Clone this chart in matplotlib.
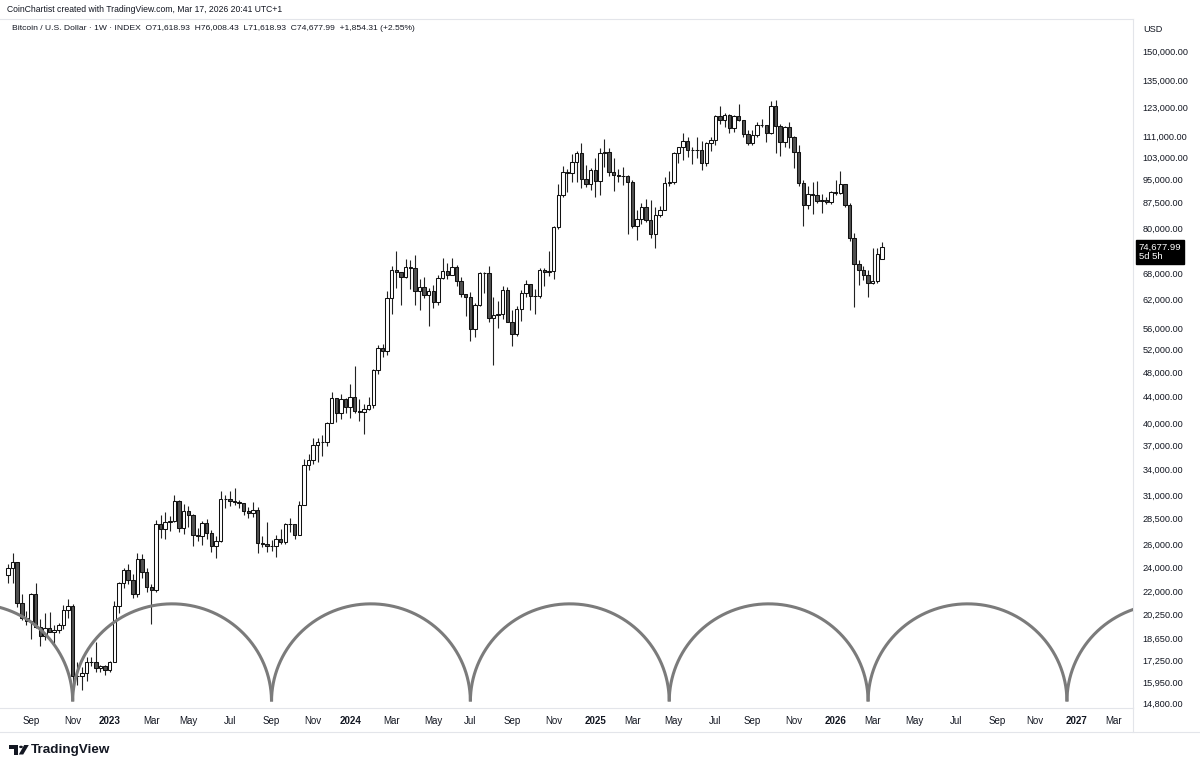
import numpy as np
import pandas as pd
import matplotlib
matplotlib.use("Agg")
import matplotlib.pyplot as plt
from matplotlib.lines import Line2D
from matplotlib.patches import Polygon, Circle
from matplotlib.ticker import FixedLocator, NullLocator

plt.rcParams['font.family'] = ['Liberation Sans', 'DejaVu Sans']

# weekly BTC candles, first bar = week of 2022-08-01
first_week = '2022-08-01'
first_open = 23300
last_open = 71618.93

closes = [
    # 2022
    23900, 24450, 21150, 20050, 19800, 21800, 19400, 18800, 19300, 19070, 19200,
    19560, 20600, 20900, 16300, 16280, 16450, 17100, 17100, 16750, 16850, 16650,
    # 2023
    17100, 20900, 22700, 23750, 22950, 21800, 24650, 23550, 22350, 22150, 28000,
    27450, 28200, 28300, 30300, 27600, 29250, 28900, 26900, 26750, 28050, 27100,
    25850, 26350, 30500, 30600, 30300, 30250, 30100, 29300, 29050, 29400, 26100,
    26000, 25850, 25850, 26550, 26250, 27950, 27950, 26850, 29950, 34500, 35050,
    37050, 37400, 37450, 39950, 43800, 41400, 43650, 42300,
    # 2024
    43950, 41750, 41550, 42050, 42600, 48300, 52150, 51750, 62450, 68950, 68400,
    67250, 69650, 69350, 63900, 64950, 63100, 63950, 61500, 67050, 68550, 67750,
    69650, 66200, 63200, 62700, 55850, 60800, 68150, 68250, 58150, 58700, 58950,
    64200, 57300, 54850, 60000, 63600, 65600, 62800, 62850, 69000, 68350, 68750,
    80400, 89850, 97700, 97250, 101200, 104450, 95200, 93700, 98350,
    # 2025
    94500, 104400, 104800, 97700, 96450, 96150, 96300, 94250, 80700, 82600, 86100,
    82400, 78350, 83750, 85150, 93750, 94300, 104600, 106500, 109000, 105700,
    105600, 105500, 100950, 108350, 109200, 119100, 117300, 119450, 114200, 119300,
    117500, 111800, 108250, 111150, 115300, 115300, 112200, 123500, 115100, 108650,
    114500, 110600, 104700, 94000, 86800, 90400, 89900, 88000, 88500, 87600, 91000,
    # 2026
    90500, 93500, 86800, 77200, 70400, 68900, 67700, 65900, 66200, 72823.68, 74677.99,
]

highs = [
    24250, 25200, 24450, 21800, 20550, 21850, 22650, 19950, 20350, 20450, 19500,
    19700, 21000, 21450, 21050, 17150, 16800, 17400, 17400, 18400, 16950, 16950,
    17200, 21250, 22750, 23950, 24250, 23400, 25250, 25100, 23900, 22600, 28400,
    28900, 29150, 28800, 30950, 30450, 30000, 29800, 29000, 27600, 28250, 28450,
    27400, 26800, 31400, 31000, 31400, 31800, 30400, 30000, 29700, 30250, 29650,
    26800, 28150, 26450, 26850, 27450, 28050, 28600, 27950, 30300, 35200, 35900,
    37950, 37950, 38400, 40200, 44700, 43500, 44400, 43800,
    45900, 48950, 43550, 42850, 43850, 48550, 52800, 52950, 64000, 69950, 73750,
    68100, 71700, 71300, 72800, 66800, 67200, 64750, 65450, 67700, 71950, 70600,
    71950, 70200, 67250, 63350, 63800, 61200, 68350, 68500, 70000, 62700, 61800,
    65000, 64950, 59800, 60700, 64100, 66500, 65600, 64450, 69400, 69500, 73600,
    80500, 93450, 99600, 98700, 104000, 105250, 108350, 99950, 99000,
    102700, 106400, 109600, 106450, 102500, 98800, 99500, 96500, 95000, 85300, 87500,
    88750, 88500, 86100, 86500, 95750, 97900, 104950, 106650, 111950, 110700,
    106800, 110600, 108950, 108500, 110550, 119500, 123200, 120250, 119800, 119450,
    124500, 117600, 113400, 113400, 116700, 117900, 115400, 125700, 126200, 115900,
    114900, 116400, 110800, 107500, 95000, 93000, 94300, 94700, 90400, 89400, 91300,
    94900, 97800, 93600, 87500, 78600, 71400, 69900, 68900, 74600, 74400, 76008.43,
]

lows = [
    22650, 22700, 20800, 19850, 19550, 18550, 19350, 18150, 18500, 19050, 18200,
    18950, 19250, 20050, 15650, 15750, 15500, 16000, 16900, 16550, 16550, 16350,
    16550, 17100, 20400, 22300, 22550, 21500, 21550, 23100, 21950, 19600, 21950,
    26600, 26550, 27300, 28200, 27150, 26950, 27700, 25850, 26350, 25900, 26550,
    25350, 24800, 26250, 29550, 29800, 29950, 29550, 28900, 28600, 28700, 25200,
    25800, 25350, 25400, 24900, 26050, 26000, 27200, 26550, 26950, 29900, 33900,
    34550, 34800, 35650, 36850, 39950, 40200, 40550, 41450,
    40750, 41500, 40300, 38550, 41850, 42250, 47700, 50650, 50900, 59000, 64550,
    60800, 66950, 64500, 60800, 59700, 62450, 56550, 60200, 60800, 66650, 66700,
    67600, 65100, 62550, 58450, 53500, 54300, 60650, 63450, 57350, 49100, 56100,
    57850, 57200, 52600, 54600, 57500, 62650, 59850, 58950, 62400, 65050, 67500,
    66800, 79750, 89400, 90800, 94100, 94200, 92200, 92500, 91500,
    89250, 89950, 99500, 96200, 91200, 94100, 93350, 78200, 80000, 76600, 81200,
    81600, 77100, 74500, 83100, 85150, 92800, 93400, 100800, 102000, 103100,
    100400, 102700, 98200, 99600, 105150, 107500, 115750, 114700, 112000, 112650,
    116800, 110600, 107300, 107300, 110600, 114400, 108650, 111600, 104600, 103500,
    106700, 106300, 98900, 93000, 80600, 85500, 84000, 87400, 84500, 87000, 87000,
    90000, 90200, 86300, 76500, 60400, 65300, 66500, 62600, 65600, 65800, 71618.93,
]

price_ticks = [150000, 135000, 123000, 111000, 103000, 95000, 87500, 80000,
               68000, 62000, 56000, 52000, 48000, 44000, 40000, 37000, 34000,
               31000, 28500, 26000, 24000, 22000, 20250, 18650, 17250, 15950, 14800]
tick_months = pd.date_range('2022-09-01', '2027-03-01', freq='2MS')

# half-circle cycle arcs
arc_start = pd.Timestamp('2022-11-07')
arc_period = 301  # days
arc_low, arc_high = 14880, 21050

header1 = "CoinChartist created with TradingView.com, Mar 17, 2026 20:41 UTC+1"
header2 = ("Bitcoin / U.S. Dollar · 1W · INDEX  O71,618.93  H76,008.43  "
           "L71,618.93  C74,677.99  +1,854.31 (+2.55%)")
last_price_text = "74,677.99\n5d 5h"

W, H = 1200, 772
fig = plt.figure(figsize=(W / 100, H / 100), dpi=100)
ax = fig.add_axes([0, (H - 708) / H, 1133 / W, (708 - 19) / H])

dates = pd.date_range(first_week, periods=len(closes), freq='W-MON')
o = np.array([first_open] + closes[:-1], dtype=float)
o[-1] = last_open
c = np.array(closes, dtype=float)
up = c >= o

ax.vlines(dates, lows, highs, color='#222222', lw=0.8, zorder=2)
ax.bar(dates[up], (c - o)[up], bottom=o[up], width=5.2, color='white',
       edgecolor='#111111', lw=0.75, zorder=3)
ax.bar(dates[~up], (c - o)[~up], bottom=o[~up], width=5.2, color='#505050',
       edgecolor='#111111', lw=0.75, zorder=3)

theta = np.linspace(0, np.pi, 200)
half = arc_period / 2
for k in range(-1, 6):
    centre = arc_start + pd.Timedelta(days=k * arc_period + half)
    xs = centre + pd.to_timedelta(-half * np.cos(theta), unit='D')
    ys = np.exp(np.log(arc_low) + np.log(arc_high / arc_low) * np.sin(theta))
    ax.plot(xs, ys, color='#7b7b7b', lw=2.2, zorder=4, solid_capstyle='butt')

ax.set_yscale('log')
ax.set_ylim(14540, 168100)
ax.set_xlim(pd.Timestamp('2022-07-20'), pd.Timestamp('2027-03-31'))

ax.yaxis.tick_right()
ax.yaxis.set_major_locator(FixedLocator(price_ticks))
ax.yaxis.set_minor_locator(NullLocator())
ax.set_yticklabels([f"{v:,.2f}" for v in price_ticks])
ax.tick_params(axis='y', length=0, pad=7, labelsize=6.6, labelcolor='#131722')

week_mon = pd.offsets.Week(weekday=0)
tick_pos = [week_mon.rollforward(m) for m in tick_months]
tick_lab = [str(m.year) if m.month == 1 else m.strftime('%b') for m in tick_months]
ax.set_xticks(tick_pos)
ax.set_xticklabels(tick_lab)
ax.xaxis.set_minor_locator(NullLocator())
ax.tick_params(axis='x', length=0, pad=6, labelsize=7.0, labelcolor='#131722')
for t, m in zip(ax.get_xticklabels(), tick_months):
    if m.month == 1:
        t.set_fontweight('bold')

ax.spines['left'].set_visible(False)
for s in ['top', 'bottom', 'right']:
    ax.spines[s].set_color('#e3e5ea')
    ax.spines[s].set_linewidth(0.8)

fig.add_artist(Line2D([0, 1], [1 - 732 / H] * 2, color='#e3e5ea', lw=0.8))
fig.add_artist(Line2D([1133 / W] * 2, [1 - 732 / H, 1 - 708 / H], color='#e3e5ea', lw=0.8))

ax.annotate(last_price_text, xy=(1.0, closes[-1]), xycoords=('axes fraction', 'data'),
            xytext=(4.0, 3.5), textcoords='offset points', ha='left', va='top',
            fontsize=6.8, color='white', linespacing=1.1, annotation_clip=False,
            bbox=dict(boxstyle='square,pad=0.25', fc='black', ec='black'))

fig.text(7 / W, 1 - 9 / H, header1, fontsize=6.2, color='#131722', va='center')
fig.text(12 / W, 1 - 29 / H, header2, fontsize=6.1, color='#131722', va='center')
fig.text(1143 / W, 1 - 29 / H, "USD", fontsize=6.6, color='#131722', va='center')

# TradingView logo
def fp(x, y):
    return (x / W, 1 - y / H)

logo_t = Polygon([fp(8.5, 745), fp(18.3, 745), fp(18.3, 754.5), fp(14.2, 754.5),
                  fp(14.2, 748.6), fp(8.5, 748.6)], closed=True,
                 transform=fig.transFigure, fc='#131722', ec='none')
logo_s = Polygon([fp(24.2, 745), fp(28.8, 745), fp(23.2, 754.5), fp(18.8, 754.5)],
                 closed=True, transform=fig.transFigure, fc='#131722', ec='none')
fig.add_artist(logo_t)
fig.add_artist(logo_s)
fig.add_artist(Circle(fp(21.0, 746.9), 1.9 / W, transform=fig.transFigure,
                      fc='#131722', ec='none'))
fig.text(31 / W, 1 - 750 / H, "TradingView", fontsize=9.7, fontweight='bold',
         color='#131722', va='center')

fig.savefig('out.png', dpi=100, facecolor='white')
